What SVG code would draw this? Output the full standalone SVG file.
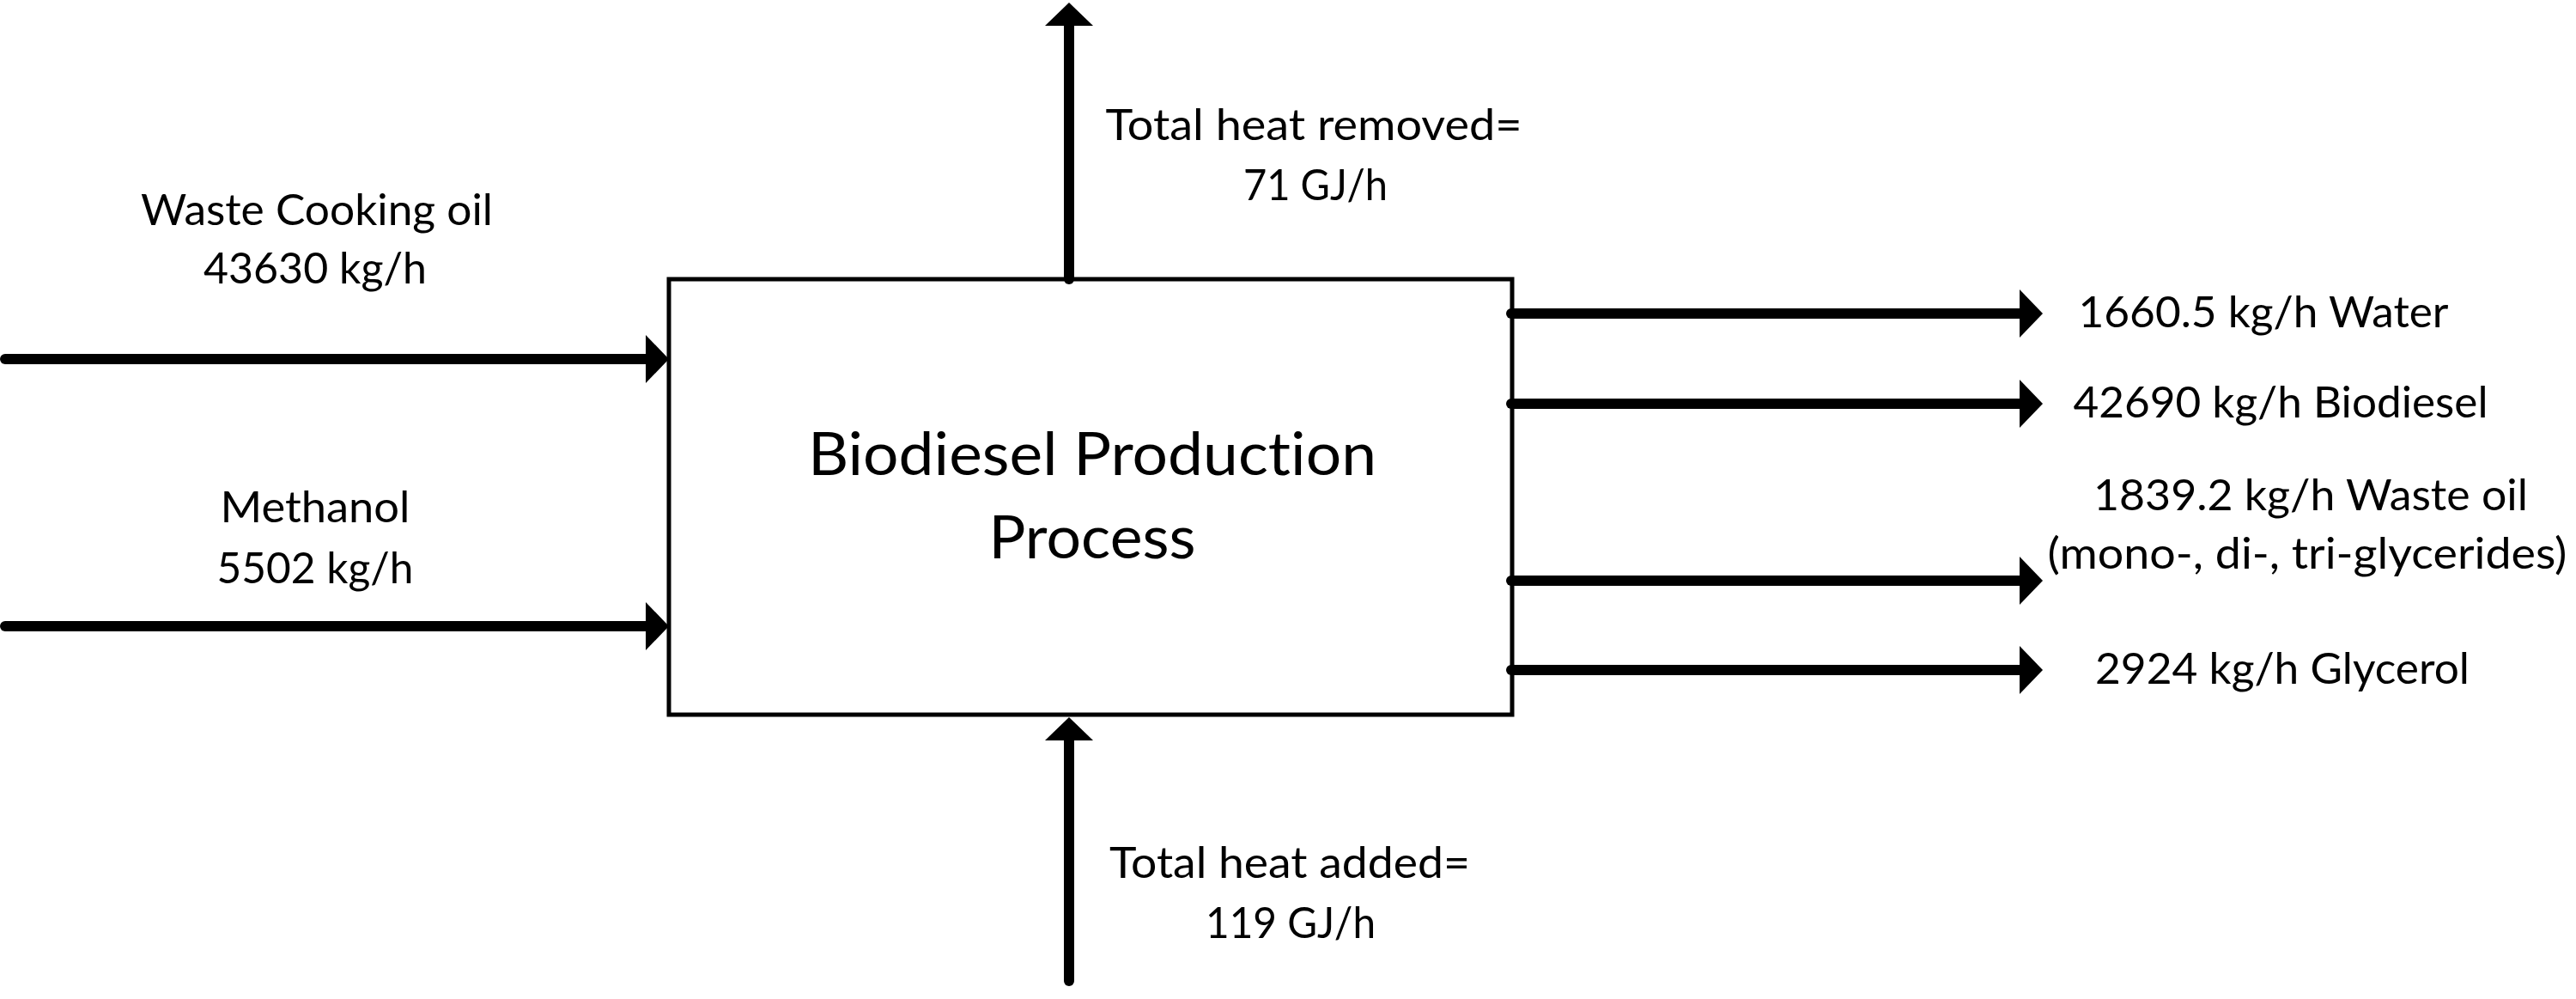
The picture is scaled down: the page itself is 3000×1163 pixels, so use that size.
<svg xmlns="http://www.w3.org/2000/svg" width="3000" height="1163" viewBox="0 0 3000 1163">
<defs>
<style>
.lbl{font-family:Lato,"Open Sans","Liberation Sans",sans-serif;font-size:50px;fill:#000;text-anchor:middle;font-variant-ligatures:none}
.big{font-family:Lato,"Open Sans","Liberation Sans",sans-serif;font-size:70px;fill:#000;text-anchor:middle;font-variant-ligatures:none}
.flow{stroke:#000;stroke-width:12;fill:none;stroke-linecap:round;marker-end:url(#ah)}
.box{fill:#fff;stroke:#000;stroke-width:5}
</style>
<marker id="ah" markerUnits="userSpaceOnUse" markerWidth="28" markerHeight="56" viewBox="0 0 27 56" refX="1" refY="28" orient="auto">
<path d="M0,0 L27,28 L0,56 z" fill="#000"/>
</marker>
</defs>
<rect width="3000" height="1163" fill="#fff"/>
<g id="process">
<rect class="box" x="779" y="325" width="982" height="507"/>
<text class="big" x="1272" y="553" textLength="662" lengthAdjust="spacingAndGlyphs">Biodiesel Production</text>
<text class="big" x="1272" y="650" textLength="241" lengthAdjust="spacingAndGlyphs">Process</text>
</g>
<g id="connectors">
<line class="flow" x1="6" y1="418" x2="753" y2="418"/>
<line class="flow" x1="6" y1="729" x2="753" y2="729"/>
<line class="flow" x1="1245" y1="325" x2="1245" y2="29"/>
<line class="flow" x1="1245" y1="1142" x2="1245" y2="861"/>
<line class="flow" x1="1760" y1="365" x2="2353" y2="365"/>
<line class="flow" x1="1760" y1="470" x2="2353" y2="470"/>
<line class="flow" x1="1760" y1="676" x2="2353" y2="676"/>
<line class="flow" x1="1760" y1="780" x2="2353" y2="780"/>
</g>
<g id="label-oil">
<text class="lbl" x="369" y="262" textLength="410" lengthAdjust="spacingAndGlyphs">Waste Cooking oil</text>
<text class="lbl" x="367" y="330" textLength="260" lengthAdjust="spacingAndGlyphs">43630 kg/h</text>
</g>
<g id="label-methanol">
<text class="lbl" x="367" y="608" textLength="221" lengthAdjust="spacingAndGlyphs">Methanol</text>
<text class="lbl" x="367" y="679" textLength="229" lengthAdjust="spacingAndGlyphs">5502 kg/h</text>
</g>
<g id="label-heat-removed">
<text class="lbl" x="1530" y="163" textLength="485" lengthAdjust="spacingAndGlyphs">Total heat removed=</text>
<text class="lbl" x="1532" y="233" textLength="168" lengthAdjust="spacingAndGlyphs">71 GJ/h</text>
</g>
<g id="label-heat-added">
<text class="lbl" x="1502" y="1022" textLength="420" lengthAdjust="spacingAndGlyphs">Total heat added=</text>
<text class="lbl" x="1503" y="1092" textLength="198" lengthAdjust="spacingAndGlyphs">119 GJ/h</text>
</g>
<g id="label-water">
<text class="lbl" x="2636" y="381" textLength="431" lengthAdjust="spacingAndGlyphs">1660.5 kg/h Water</text>
</g>
<g id="label-biodiesel">
<text class="lbl" x="2656" y="486" textLength="483" lengthAdjust="spacingAndGlyphs">42690 kg/h Biodiesel</text>
</g>
<g id="label-wasteoil">
<text class="lbl" x="2691" y="594" textLength="506" lengthAdjust="spacingAndGlyphs">1839.2 kg/h Waste oil</text>
<text class="lbl" x="2687" y="662" textLength="605" lengthAdjust="spacingAndGlyphs">(mono-, di-, tri-glycerides)</text>
</g>
<g id="label-glycerol">
<text class="lbl" x="2658" y="796" textLength="436" lengthAdjust="spacingAndGlyphs">2924 kg/h Glycerol</text>
</g>
</svg>
